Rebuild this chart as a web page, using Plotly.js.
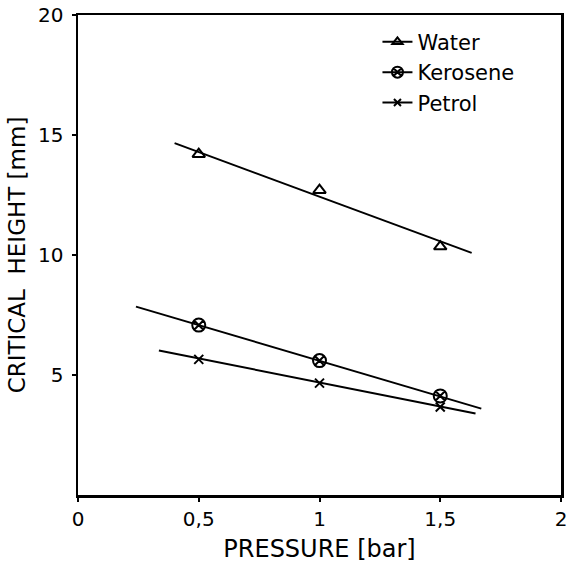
<!DOCTYPE html>
<html>
<head>
<meta charset="utf-8">
<script src="https://cdn.plot.ly/plotly-3.0.1.min.js"></script>
<style>html,body{margin:0;padding:0;background:#fff;}#chart{width:568px;height:563px;}</style>
</head>
<body>
<div id="chart"></div>
<script>
// Measured points
const pressure = [0.5, 1.0, 1.5];
const water = [14.2, 12.7, 10.35];
const kerosene = [7.08, 5.6, 4.13];
const petrol = [5.65, 4.66, 3.67];

// Drawn fitted lines (end points)
const waterFitX = [0.40, 1.63];
const waterFitY = [14.66, 10.09];
const keroseneFitX = [0.24, 1.67];
const keroseneFitY = [7.85, 3.6];
const petrolFitX = [0.335, 1.646];
const petrolFitY = [6.02, 3.4];

const seriesNames = ['Water', 'Kerosene', 'Petrol'];
const xTickVals = [0, 0.5, 1, 1.5, 2];
const xTickText = ['0', '0,5', '1', '1,5', '2'];
const yTickVals = [5, 10, 15, 20];
const yTickText = ['5', '10', '15', '20'];

const FONT = 'DejaVu Sans, sans-serif';
const BLACK = '#000';

const symbols = ['triangle-up-open', 'circle-x-open', 'x-thin-open'];
const sizes = [11, 13, 9];
const ys = [water, kerosene, petrol];
const fitsX = [waterFitX, keroseneFitX, petrolFitX];
const fitsY = [waterFitY, keroseneFitY, petrolFitY];

const traces = [];
for (let i = 0; i < 3; i++) {
  traces.push({
    x: fitsX[i], y: fitsY[i], mode: 'lines', showlegend: false,
    line: {color: BLACK, width: 2}, hoverinfo: 'skip'
  });
  traces.push({
    x: pressure, y: ys[i], mode: 'markers', showlegend: false,
    marker: {symbol: symbols[i], size: sizes[i], color: BLACK, line: {color: BLACK, width: 2}}
  });
  traces.push({
    x: [null], y: [null], mode: 'lines+markers', name: seriesNames[i],
    line: {color: BLACK, width: 2},
    marker: {symbol: symbols[i], size: sizes[i] - 2, color: BLACK, line: {color: BLACK, width: 2}}
  });
}

const layout = {
  width: 568, height: 563,
  margin: {l: 78, r: 7, t: 15, b: 68},
  paper_bgcolor: '#fff', plot_bgcolor: '#fff',
  font: {family: FONT, color: BLACK, size: 20},
  showlegend: true,
  legend: {
    x: 0.62, y: 0.986, xanchor: 'left', yanchor: 'top',
    bgcolor: 'rgba(0,0,0,0)', font: {family: FONT, size: 21, color: BLACK},
    tracegroupgap: 0
  },
  xaxis: {
    range: [0, 2], tickvals: xTickVals, ticktext: xTickText,
    showgrid: false, zeroline: false,
    showline: true, mirror: true, linecolor: BLACK, linewidth: 2.5,
    ticks: 'outside', ticklen: 4, tickwidth: 2, tickcolor: BLACK,
    tickfont: {family: FONT, size: 20, color: BLACK},
    title: {text: 'PRESSURE [bar]', font: {family: FONT, size: 24, color: BLACK}, standoff: 12}
  },
  yaxis: {
    range: [0, 20], tickvals: yTickVals, ticktext: yTickText,
    showgrid: false, zeroline: false,
    showline: true, mirror: true, linecolor: BLACK, linewidth: 2.5,
    ticks: 'outside', ticklen: 4, tickwidth: 2, tickcolor: BLACK,
    ticklabelstandoff: 4,
    tickfont: {family: FONT, size: 20, color: BLACK},
    title: {text: '\u00a0\u00a0\u00a0CRITICAL\u00a0 HEIGHT [mm]', font: {family: FONT, size: 23, color: BLACK}, standoff: 6}
  }
};

Plotly.newPlot('chart', traces, layout, {displayModeBar: false, staticPlot: true});
</script>
</body>
</html>
